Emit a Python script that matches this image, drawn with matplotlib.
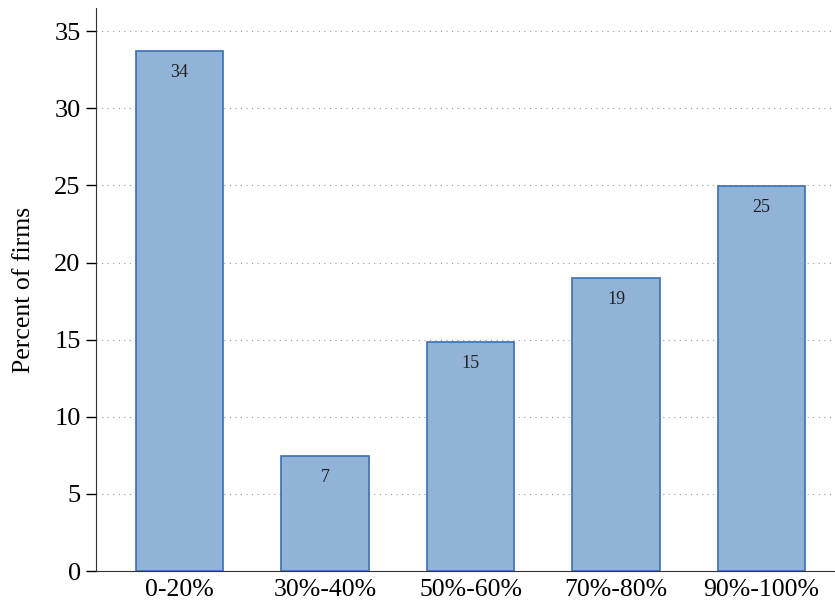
import matplotlib.pyplot as plt

categories = ["0-20%", "30%-40%", "50%-60%", "70%-80%", "90%-100%"]
values = [33.7, 7.45, 14.84, 18.99, 24.95]
labels = ["34", "7", "15", "19", "25"]

plt.rcParams['font.family'] = ['Liberation Serif', 'DejaVu Serif']

fig = plt.figure(figsize=(8.35, 6.05), dpi=100)
ax = fig.add_axes([96 / 835, 34 / 605, 1 - 96 / 835, (571 - 8) / 605])

x = range(len(categories))
bars = ax.bar(x, values, width=0.6, color="#91b3d7", edgecolor="#3a6fb0", linewidth=1.2, zorder=3)

for b, lab in zip(bars, labels):
    ax.annotate(lab, (b.get_x() + b.get_width() / 2, b.get_height()),
                xytext=(0, -21), textcoords="offset pixels",
                ha="center", va="center", fontsize=13, color="#222222", zorder=4)

ax.set_xlim(-0.574, 4.505)
ax.set_ylim(0, 36.5)
ax.set_yticks(range(0, 36, 5))
ax.set_xticks(list(x))
ax.set_xticklabels(categories, fontsize=18.5)
ax.tick_params(axis="x", length=0, pad=6)
ax.tick_params(axis="y", labelsize=19, length=7, width=1, direction="out", pad=4)
ax.set_ylabel("Percent of firms", fontsize=18.5, labelpad=14)

ax.grid(axis="y", linestyle=(0, (1, 4)), color="#999999", linewidth=0.8, zorder=0)
ax.spines["top"].set_visible(False)
ax.spines["right"].set_visible(False)
ax.spines["left"].set_color("#333333")
ax.spines["bottom"].set_color("#333333")

fig.savefig("out.png", dpi=100)
